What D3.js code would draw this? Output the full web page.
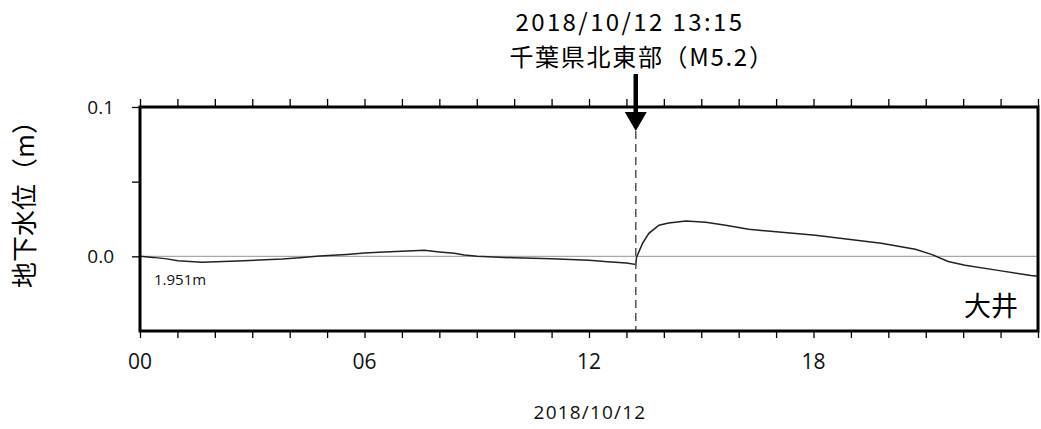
<!DOCTYPE html>
<html>
<head>
<meta charset="utf-8">
<script src="https://cdn.jsdelivr.net/npm/d3@7"></script>
<style>
  body { margin: 0; background: #fff; }
  svg { display: block; }
  .jp { font-family: "Noto Sans CJK JP", sans-serif; }
  .num { font-family: "Open Sans", sans-serif; }
</style>
</head>
<body>
<svg width="1041" height="429"></svg>
<script>
// 時刻(時)と地下水位(m)
const hours = [0, 0.35, 0.72, 1.01, 1.65, 2.61, 3.81, 4.35, 4.8, 5.52, 6.0, 6.53, 7.6, 8.0, 8.4, 8.67, 9.01,
  10.0, 11.0, 12.0, 12.5, 13.0, 13.25, 13.27, 13.43, 13.6, 13.87, 14.13, 14.59, 15.12, 15.65, 16.27,
  17.15, 18.05, 18.93, 19.81, 20.72, 21.15, 21.6, 22.05, 22.93, 23.81, 24.0];
const levels = [0, -0.0007, -0.0017, -0.003, -0.004, -0.0032, -0.0018, -0.0007, 0.0002, 0.0013, 0.0023, 0.0029, 0.004, 0.0029, 0.002, 0.0009, 0,
  -0.001, -0.0017, -0.0027, -0.0037, -0.0045, -0.0054, -0.0007, 0.0087, 0.0154, 0.0208, 0.0223, 0.0237, 0.0228, 0.0208, 0.0181,
  0.0161, 0.0141, 0.0114, 0.0087, 0.0047, 0.0013, -0.0034, -0.006, -0.0094, -0.0128, -0.0134];
const xTickLabels = ["00", "06", "12", "18"];
const yTickLabels = ["0.1", "0.0"];
const quakeHour = 13.25;

const svg = d3.select("svg");
const mLeft = 140, mTop = 107, mRight = 1038, mBottom = 331;

const x = d3.scaleLinear().domain([0, 24]).range([mLeft, mRight]);
const y = d3.scaleLinear().domain([-0.05, 0.1]).range([mBottom, mTop]);

// 0mライン
svg.append("line")
  .attr("x1", mLeft).attr("x2", mRight)
  .attr("y1", y(0)).attr("y2", y(0))
  .attr("stroke", "#a8a8a8").attr("stroke-width", 1.2);

// 地下水位
const data = hours.map((h, i) => ({ h: h, v: levels[i] }));
svg.append("path")
  .datum(data)
  .attr("fill", "none")
  .attr("stroke", "#222")
  .attr("stroke-width", 1.5)
  .attr("d", d3.line().x(d => x(d.h)).y(d => y(d.v)));

// 地震発生時刻の破線
svg.append("line")
  .attr("x1", x(quakeHour)).attr("x2", x(quakeHour))
  .attr("y1", mTop + 24).attr("y2", mBottom)
  .attr("stroke", "#555").attr("stroke-width", 1.5)
  .attr("stroke-dasharray", "8,5");

// 目盛り
const hourTicks = d3.range(0, 25);
svg.append("g")
  .attr("transform", "translate(0," + mBottom + ")")
  .call(d3.axisBottom(x).tickValues(hourTicks).tickSize(7).tickFormat(""))
  .call(g => g.select(".domain").remove())
  .call(g => g.selectAll("line").attr("stroke", "#000").attr("stroke-width", 1.3));
svg.append("g")
  .attr("transform", "translate(0," + mTop + ")")
  .call(d3.axisTop(x).tickValues(hourTicks).tickSize(8).tickFormat(""))
  .call(g => g.select(".domain").remove())
  .call(g => g.selectAll("line").attr("stroke", "#000").attr("stroke-width", 1.3));
svg.append("g")
  .attr("transform", "translate(" + mLeft + ",0)")
  .call(d3.axisLeft(y).tickValues([0.1, 0.05, 0]).tickSize(8).tickFormat(""))
  .call(g => g.select(".domain").remove())
  .call(g => g.selectAll("line").attr("stroke", "#000").attr("stroke-width", 1.3));

// 枠
svg.append("rect")
  .attr("x", mLeft).attr("y", mTop)
  .attr("width", mRight - mLeft).attr("height", mBottom - mTop)
  .attr("fill", "none").attr("stroke", "#000").attr("stroke-width", 3);

// x軸ラベル
svg.selectAll(".xl")
  .data(xTickLabels)
  .enter().append("text")
  .attr("class", "num")
  .attr("x", (d, i) => x(i * 6))
  .attr("y", 369)
  .attr("text-anchor", "middle")
  .attr("font-size", 21)
  .attr("fill", "#111")
  .text(d => d);

// y軸ラベル
svg.selectAll(".yl")
  .data(yTickLabels)
  .enter().append("text")
  .attr("class", "num")
  .attr("x", 114)
  .attr("y", (d, i) => y([0.1, 0][i]) + 7)
  .attr("text-anchor", "end")
  .attr("font-size", 19)
  .attr("fill", "#111")
  .text(d => d);

svg.append("text")
  .attr("class", "num")
  .attr("x", 590).attr("y", 419)
  .attr("text-anchor", "middle")
  .attr("font-size", 19)
  .attr("letter-spacing", 1.2)
  .attr("fill", "#111")
  .text("2018/10/12");

svg.append("text")
  .attr("class", "jp")
  .attr("transform", "translate(34,198) rotate(-90)")
  .attr("text-anchor", "middle")
  .attr("font-size", 26)
  .text("地下水位（m）");

svg.append("text")
  .attr("class", "num")
  .attr("x", 154).attr("y", 285)
  .attr("font-size", 15)
  .attr("fill", "#111")
  .text("1.951m");

svg.append("text")
  .attr("class", "jp")
  .attr("x", 1018).attr("y", 316)
  .attr("text-anchor", "end")
  .attr("font-size", 27)
  .text("大井");

// 地震の注記
svg.append("text")
  .attr("class", "jp")
  .attr("x", 630).attr("y", 31)
  .attr("text-anchor", "middle")
  .attr("font-size", 24)
  .attr("letter-spacing", 2.4)
  .text("2018/10/12 13:15");
svg.append("text")
  .attr("class", "jp")
  .attr("x", 642).attr("y", 66)
  .attr("text-anchor", "middle")
  .attr("font-size", 24)
  .attr("letter-spacing", 1.7)
  .text("千葉県北東部（M5.2）");

// 矢印
const ax = x(quakeHour);
svg.append("line")
  .attr("x1", ax).attr("x2", ax)
  .attr("y1", 74).attr("y2", 114)
  .attr("stroke", "#000").attr("stroke-width", 4.5);
svg.append("path")
  .attr("d", d3.line()([[ax - 11, 112], [ax + 11, 112], [ax, 131]]))
  .attr("fill", "#000");
</script>
</body>
</html>
